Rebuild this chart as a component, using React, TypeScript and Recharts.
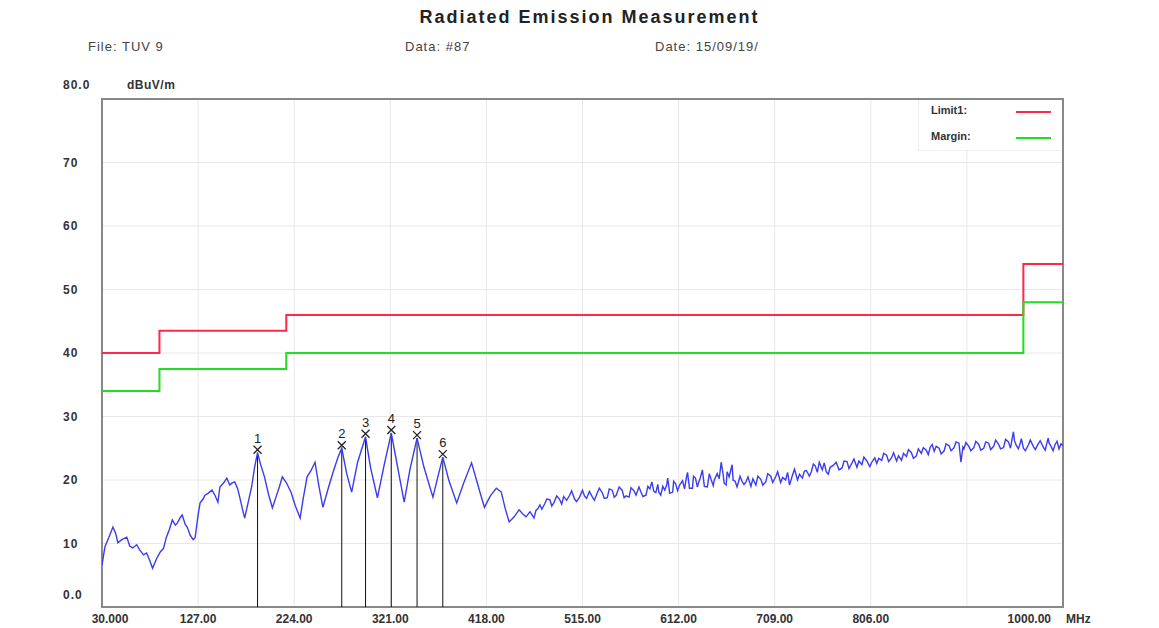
import React from 'react';
import {
  ComposedChart,
  Line,
  Scatter,
  XAxis,
  YAxis,
  CartesianGrid,
  ReferenceLine,
  ReferenceArea,
} from 'recharts';

// frequency (MHz) / level (dBuV/m)
const traceFreq = [
  30, 33, 37, 41, 44, 46, 50, 55, 58, 61, 65, 68, 72, 75, 78, 81, 84, 86, 89, 92,
  95, 98, 101, 104, 106, 109, 111, 114, 116, 119, 122, 124, 127, 129, 132, 134, 137, 141, 144, 147,
  149, 153, 156, 159, 161, 164, 167, 169, 172, 174, 178, 181, 184, 187, 190, 194, 198, 202, 206, 209,
  212, 216, 221, 225, 230, 233, 237, 241, 245, 249, 253, 258, 263, 268, 272, 277, 282, 288, 296, 301,
  308, 315, 322, 329, 335, 341, 348, 355, 364, 369, 374, 380, 388, 395, 403, 408, 412, 416, 422, 428,
  433, 437, 441, 446, 451, 455, 458, 462,
  466, 468, 470, 472, 474, 477, 479, 482, 484, 486, 489, 492, 494, 496, 499, 502, 504, 507, 509, 512,
  515, 517, 519, 522, 525, 527, 530, 532, 535, 537, 540, 542, 545, 547, 549, 552, 555, 557, 559, 562,
  564, 567, 569, 572, 574, 576, 579, 581, 583, 585, 587, 589, 591, 592, 594, 596, 598, 600, 601, 603,
  606, 607, 609, 611, 613, 616, 618, 620, 621, 623, 626, 627, 629, 631, 632, 634, 636, 638, 641, 643,
  645, 647, 648, 651, 653, 655, 657, 658, 660, 661, 663, 666, 667, 669, 671, 674, 676, 678, 680, 682,
  685, 687, 690, 692, 695, 697, 700, 702, 705, 707, 710, 712, 715, 717, 720, 722, 724, 727, 729, 732,
  734, 737, 739, 741, 744, 746, 748, 750, 752, 754, 757, 759, 761, 763, 765, 768, 771, 774, 777, 779,
  782, 784, 787, 789, 792, 794, 797, 799, 802, 805, 807, 810, 812, 814, 817, 819, 822, 824, 827, 829,
  832, 834, 837, 839, 842, 844, 847, 849, 852, 854, 857, 859, 862, 864, 866, 868, 870, 872, 875, 877,
  880, 882, 885, 887, 890, 892, 895, 897, 899, 900, 902, 905, 907, 910, 912, 915, 917, 920, 922, 925,
  927, 930, 932, 935, 937, 940, 942, 945, 947, 949, 950, 951, 953, 955, 957, 958, 960, 962, 965, 967,
  970, 972, 975, 977, 980, 982, 985, 986, 988, 990, 992, 994, 996, 998, 1000,
];
const traceLevel = [
  6.6, 9.5, 11.0, 12.6, 11.5, 10.1, 10.6, 11.0, 9.6, 9.3, 9.8, 9.0, 8.2, 8.5, 7.4, 6.1, 7.2, 7.9, 8.7, 9.2,
  11.0, 12.2, 13.7, 12.9, 13.2, 14.1, 14.5, 13.0, 12.6, 11.3, 10.6, 10.9, 14.5, 16.4, 17.0, 17.6, 17.9, 18.4, 17.6, 16.5,
  18.9, 19.6, 20.3, 19.2, 19.5, 19.7, 18.6, 17.3, 15.3, 14.0, 16.8, 18.9, 22.0, 24.3, 22.5, 20.5, 17.8, 15.6, 17.5, 18.9,
  20.5, 19.6, 18.0, 16.0, 14.0, 17.0, 20.5, 21.5, 22.8, 19.0, 15.7, 18.5, 21.1, 23.5, 25.0, 21.0, 18.1, 22.8, 26.8, 22.0,
  17.2, 22.5, 27.4, 21.5, 16.5, 21.8, 26.6, 22.0, 17.3, 20.5, 23.6, 20.0, 16.4, 19.5, 22.7, 20.0, 17.8, 15.7, 17.5, 18.7,
  18.1, 15.5, 13.4, 14.2, 15.3, 14.6, 14.2, 15.0,
  14.0, 15.2, 15.5, 16.1, 15.4, 16.3, 17.0, 16.9, 15.9, 16.4, 17.5, 16.9, 16.2, 17.4, 16.8, 17.6, 18.3, 17.0, 16.6, 17.3,
  18.4, 17.5, 17.1, 18.2, 17.3, 16.8, 18.0, 18.7, 18.0, 17.1, 17.2, 18.6, 18.4, 17.3, 17.6, 18.9, 18.4, 17.2, 17.5, 17.3,
  18.8, 18.3, 17.6, 18.9, 18.1, 17.4, 17.6, 19.0, 18.6, 19.7, 18.2, 18.0, 19.3, 18.1, 17.6, 19.0, 18.4, 19.2, 20.3, 17.9,
  18.1, 19.8, 19.4, 18.3, 19.2, 19.9, 18.6, 20.5, 21.2, 18.7, 18.7, 20.6, 20.3, 18.9, 19.5, 20.4, 21.6, 19.0, 18.9, 21.0,
  20.0, 19.1, 20.0, 21.0, 20.2, 22.8, 20.8, 19.5, 19.2, 21.3, 20.5, 22.4, 20.0, 19.8, 18.9, 20.6, 19.8, 19.3, 19.7, 20.5,
  19.0, 20.2, 19.2, 20.6, 20.1, 19.2, 19.7, 21.0, 20.6, 19.6, 20.5, 21.3, 19.6, 20.4, 20.0, 21.2, 19.2, 20.8, 21.7, 20.0,
  20.9, 20.3, 21.4, 21.5, 20.6, 21.3, 22.5, 22.2, 21.2, 22.8, 21.6, 22.7, 21.3, 20.9, 22.0, 22.3, 22.8, 21.6, 21.9, 23.0,
  22.9, 21.8, 22.7, 23.3, 22.0, 23.0, 22.4, 23.6, 23.0, 22.1, 22.8, 23.5, 22.6, 23.4, 23.1, 24.2, 23.9, 22.9, 23.5, 24.3,
  23.0, 23.8, 23.1, 24.2, 23.7, 24.8, 24.3, 23.4, 23.8, 24.9, 24.2, 25.1, 24.7, 24.0, 25.2, 25.6, 24.5, 25.3, 25.0, 24.1,
  24.6, 25.7, 25.4, 24.6, 25.1, 26.0, 25.8, 22.8, 25.2, 24.9, 25.9, 25.3, 24.6, 25.1, 26.1, 25.6, 24.7, 25.0, 26.0, 25.8,
  24.8, 25.3, 26.3, 25.6, 24.9, 25.1, 26.4, 26.0, 25.0, 26.8, 27.6, 26.2, 25.4, 24.9, 25.9, 26.5, 25.0, 24.6, 25.5, 26.3,
  25.3, 24.8, 25.7, 26.2, 25.2, 24.7, 26.6, 25.8, 25.3, 24.6, 25.6, 26.1, 24.9, 25.7, 25.4,
];

const limitFreq = [30, 88, 216, 960, 1000];
const limitLevel = [40, 43.5, 46, 54, 54];
const marginLevel = [34, 37.5, 40, 48, 48];

const markerLabels = ['1', '2', '3', '4', '5', '6'];
const markerFreq = [187, 272, 296, 322, 348, 374];
const markerLevel = [24.3, 25.0, 26.8, 27.4, 26.6, 23.6];

const xTicks = [30, 127, 224, 321, 418, 515, 612, 709, 806, 903, 1000];
const yTicks = [0, 10, 20, 30, 40, 50, 60, 70, 80];

const traceData = traceFreq.map((f, i) => ({ f, v: traceLevel[i] }));
const limitData = limitFreq.map((f, i) => ({ f, v: limitLevel[i] }));
const marginData = limitFreq.map((f, i) => ({ f, v: marginLevel[i] }));
const markerData = markerFreq.map((f, i) => ({ f, v: markerLevel[i], label: markerLabels[i] }));

const FONT = '"Liberation Sans", Arial, sans-serif';

const XTick = (props: any) => {
  const { x, y, payload } = props;
  const v = payload.value;
  const style = { fontFamily: FONT, fontSize: 12, fontWeight: 700, fill: '#333' };
  if (v === 903) return <g />;
  if (v === 1000) {
    return (
      <g>
        <text x={x - 12} y={y + 14} textAnchor="end" style={style}>1000.00</text>
        <text x={x + 3} y={y + 14} textAnchor="start" style={style}>MHz</text>
      </g>
    );
  }
  const label = v === 30 ? '30.000' : v.toFixed(2);
  return (
    <text x={v === 30 ? x + 8 : x} y={y + 14} textAnchor="middle" style={style}>
      {label}
    </text>
  );
};

const YTick = (props: any) => {
  const { y, payload } = props;
  const v = payload.value;
  const style = { fontFamily: FONT, fontSize: 12, fontWeight: 700, fill: '#333', letterSpacing: 1 };
  if (v === 80) {
    return (
      <g>
        <text x={63} y={y - 10} style={style}>80.0</text>
        <text x={127} y={y - 10} style={{ ...style, letterSpacing: 0.5 }}>dBuV/m</text>
      </g>
    );
  }
  if (v === 0) {
    return <text x={63} y={y - 8} style={style}>0.0</text>;
  }
  return <text x={63} y={y + 4} style={style}>{v}</text>;
};

const MarkerShape = (props: any) => {
  const { cx, cy, payload } = props;
  const c = cy - 3;
  return (
    <g>
      <path
        d={`M${cx - 4},${c - 4}L${cx + 4},${c + 4}M${cx + 4},${c - 4}L${cx - 4},${c + 4}`}
        stroke="#222"
        strokeWidth={1.3}
      />
      <text
        x={cx}
        y={c - 7}
        textAnchor="middle"
        style={{ fontFamily: FONT, fontSize: 13, fill: '#222' }}
      >
        {payload.label}
      </text>
    </g>
  );
};

const headStyle: React.CSSProperties = {
  position: 'absolute',
  fontFamily: FONT,
  fontSize: 13,
  letterSpacing: 1,
  color: '#444',
  whiteSpace: 'nowrap',
};

export default function App() {
  return (
    <div
      style={{
        position: 'absolute',
        left: 0,
        top: 0,
        width: 1159,
        height: 628,
        background: '#fff',
        overflow: 'hidden',
      }}
    >
      <div
        style={{
          ...headStyle,
          left: 0,
          width: 1179,
          top: 7,
          textAlign: 'center',
          fontSize: 18,
          letterSpacing: 2,
          fontWeight: 700,
          color: '#222',
        }}
      >
        Radiated Emission Measurement
      </div>
      <div style={{ ...headStyle, left: 88, top: 39 }}>File: TUV 9</div>
      <div style={{ ...headStyle, left: 405, top: 39 }}>Data: #87</div>
      <div style={{ ...headStyle, left: 655, top: 39 }}>Date: 15/09/19/</div>

      <ComposedChart
        width={1159}
        height={628}
        margin={{ top: 99, right: 96, bottom: 0, left: 0 }}
        style={{ position: 'absolute', left: 0, top: 0 }}
      >
        <CartesianGrid stroke="#e8e8e8" strokeWidth={1} />
        <XAxis
          type="number"
          dataKey="f"
          domain={[30, 1000]}
          ticks={xTicks}
          height={21}
          tickLine={false}
          axisLine={false}
          tickSize={0}
          tickMargin={2}
          tick={<XTick />}
          allowDataOverflow
        />
        <YAxis
          type="number"
          domain={[0, 80]}
          ticks={yTicks}
          width={102}
          tickLine={false}
          axisLine={false}
          tick={<YTick />}
          allowDataOverflow
        />
        <ReferenceArea
          x1={30}
          x2={1000}
          y1={0}
          y2={80}
          fill="none"
          stroke="#888"
          strokeWidth={2}
          ifOverflow="visible"
        />
        {markerData.map((m) => (
          <ReferenceLine
            key={m.label}
            segment={[
              { x: m.f, y: 0 },
              { x: m.f, y: m.v },
            ]}
            stroke="#111"
            strokeWidth={1}
            ifOverflow="visible"
          />
        ))}
        <Line
          data={limitData}
          dataKey="v"
          type="stepAfter"
          stroke="#ff2848"
          strokeWidth={2}
          dot={false}
          isAnimationActive={false}
        />
        <Line
          data={marginData}
          dataKey="v"
          type="stepAfter"
          stroke="#22dd22"
          strokeWidth={2}
          dot={false}
          isAnimationActive={false}
        />
        <Line
          data={traceData}
          dataKey="v"
          type="linear"
          stroke="#3b3bef"
          strokeWidth={1.4}
          dot={false}
          isAnimationActive={false}
        />
        <Scatter
          data={markerData}
          dataKey="v"
          shape={<MarkerShape />}
          isAnimationActive={false}
        />
      </ComposedChart>

      <div
        style={{
          position: 'absolute',
          left: 918,
          top: 100,
          width: 142,
          height: 50,
          background: '#fff',
          borderLeft: '1px solid #eee',
          borderBottom: '1px solid #eee',
          fontFamily: FONT,
          fontSize: 11,
          fontWeight: 700,
          color: '#333',
        }}
      >
        <div style={{ position: 'absolute', left: 12, top: 4 }}>Limit1:</div>
        <div style={{ position: 'absolute', left: 97, top: 11, width: 35, height: 2, background: '#ff2848' }} />
        <div style={{ position: 'absolute', left: 12, top: 30 }}>Margin:</div>
        <div style={{ position: 'absolute', left: 97, top: 37, width: 35, height: 2, background: '#22dd22' }} />
      </div>
    </div>
  );
}
